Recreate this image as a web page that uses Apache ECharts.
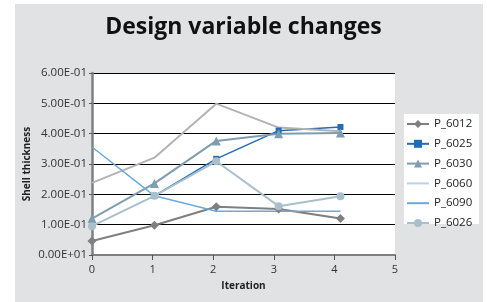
<!DOCTYPE html>
<html>
<head>
<meta charset="utf-8">
<script src="https://cdn.jsdelivr.net/npm/echarts@6/dist/echarts.min.js"></script>
<style>
  html, body { margin: 0; padding: 0; background: #fff; }
  #chart { width: 487px; height: 302px; }
</style>
</head>
<body>
<div id="chart"></div>
<script>
// iteration positions as plotted (points sit slightly right of the ticks)
const iterations = [0, 1.03, 2.05, 3.08, 4.1]
const yTickLabels = ['0.00E+01', '1.00E-01', '2.00E-01', '3.00E-01', '4.00E-01', '5.00E-01', '6.00E-01']

const p6012 = [0.046, 0.098, 0.159, 0.152, 0.120]
const p6025 = [null, 0.195, 0.317, 0.410, 0.422]
const p6030 = [0.120, 0.236, 0.376, 0.400, 0.402]
const p6060 = [0.238, 0.321, 0.499, 0.420, 0.408]
const p6090 = [0.356, 0.195, 0.144, 0.144, 0.144]
const p6026 = [0.095, 0.195, 0.309, 0.161, 0.194]

const seriesDefs = [
  { name: 'P_6012', data: p6012, color: '#7f7f82', symbol: 'diamond', size: 9, width: 2 },
  { name: 'P_6025', data: p6025, color: '#1f6cb8', symbol: 'rect', size: 6, width: 1.5 },
  { name: 'P_6030', data: p6030, color: '#7e9db0', symbol: 'triangle', size: 9, width: 2 },
  { name: 'P_6060', data: p6060, color: '#b3b3b5', symbol: 'none', size: 0, width: 2, legendColor: '#b7d2ea' },
  { name: 'P_6090', data: p6090, color: '#6aa8de', symbol: 'none', size: 0, width: 1.5 },
  { name: 'P_6026', data: p6026, color: '#a9bfcc', symbol: 'circle', size: 8, width: 2 },
]

// plain line icon for series without markers
const lineIcon = 'path://M0,0L22,0L22,2L0,2Z'

const chart = echarts.init(document.getElementById('chart'), null, { renderer: 'canvas' })

const font = '"Open Sans", "Noto Sans", sans-serif'

chart.setOption({
  animation: false,
  textStyle: { fontFamily: font },
  graphic: [
    { type: 'rect', z: -10, silent: true,
      shape: { x: 15, y: 4, width: 468, height: 298 },
      style: { fill: '#e1e2e4' } },
    { type: 'rect', z: -5, silent: true,
      shape: { x: 404, y: 114, width: 75, height: 110 },
      style: { fill: '#fff' } }
  ],
  title: {
    text: 'Design variable changes',
    left: 'center',
    top: 11,
    textStyle: { fontFamily: font, fontSize: 23, fontWeight: 'bold', color: '#111' }
  },
  grid: {
    left: 92, right: 92, top: 73, bottom: 47,
    show: true, backgroundColor: '#fff', borderWidth: 0
  },
  legend: {
    orient: 'vertical',
    left: 406, top: 118,
    padding: 0,
    itemWidth: 22, itemHeight: 10, itemGap: 7.8,
    textStyle: { fontFamily: font, fontSize: 11.5, color: '#222' },
    data: seriesDefs.map(s => {
      const item = { name: s.name }
      if (s.symbol === 'none') item.icon = lineIcon
      if (s.legendColor) {
        item.itemStyle = { color: s.legendColor }
        item.lineStyle = { color: s.legendColor }
      }
      return item
    })
  },
  xAxis: {
    type: 'value', min: 0, max: 5, interval: 1,
    name: 'Iteration', nameLocation: 'middle', nameGap: 26,
    nameTextStyle: { fontFamily: font, fontSize: 10, fontWeight: 'bold', color: '#222' },
    axisLine: { show: true, lineStyle: { color: '#808080', width: 2 } },
    axisTick: { show: true, length: 5, lineStyle: { color: '#555' } },
    axisLabel: { fontFamily: font, fontSize: 11, color: '#333', margin: 9 },
    splitLine: { show: false }
  },
  yAxis: {
    type: 'value', min: 0, max: 0.6, interval: 0.1,
    name: 'Shell thickness', nameLocation: 'middle', nameGap: 60, nameRotate: 90,
    nameMoveOverlap: false,
    nameTextStyle: { fontFamily: font, fontSize: 10, fontWeight: 'bold', color: '#222' },
    axisLine: { show: true, lineStyle: { color: '#808080', width: 2.5 } },
    axisTick: { show: true, length: 3, lineStyle: { color: '#555' } },
    axisLabel: {
      fontFamily: font, fontSize: 11.5, color: '#333', margin: 5,
      formatter: v => yTickLabels[Math.round(v * 10)]
    },
    splitLine: { show: true, lineStyle: { color: '#000', width: 1 } }
  },
  series: seriesDefs.map(s => ({
    name: s.name,
    type: 'line',
    symbol: s.symbol,
    symbolSize: s.size,
    showSymbol: s.symbol !== 'none',
    color: s.color,
    lineStyle: { color: s.color, width: s.width },
    itemStyle: { color: s.color },
    data: iterations.map((x, i) => s.data[i] == null ? null : [x, s.data[i]]).filter(d => d)
  }))
})
</script>
</body>
</html>
